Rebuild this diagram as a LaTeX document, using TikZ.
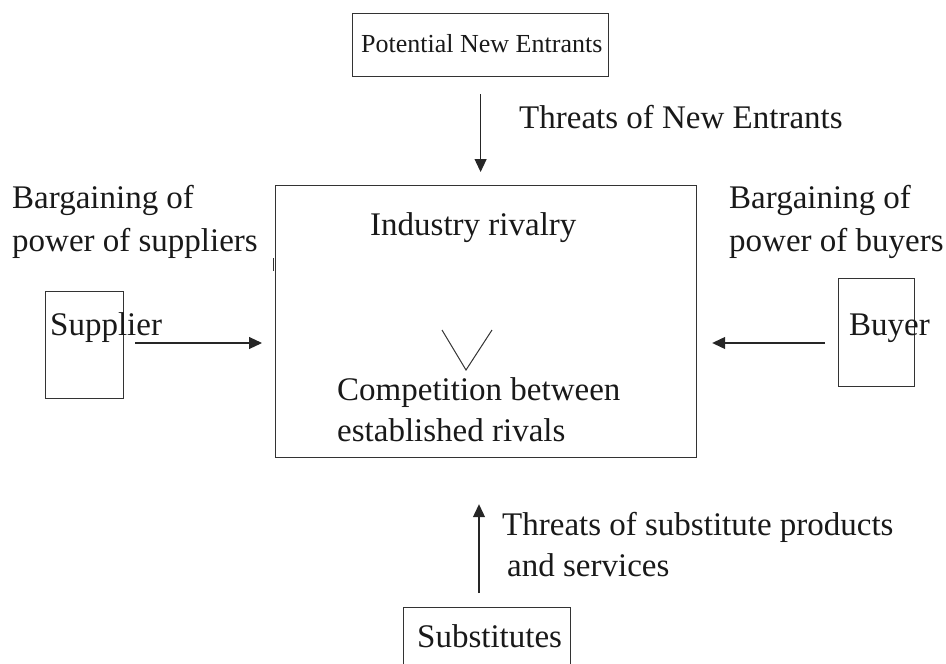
\documentclass[tikz,border=0pt]{standalone}
\usepackage{fontspec}
\setmainfont{Liberation Serif}
\usetikzlibrary{arrows.meta}
\begin{document}
\begin{tikzpicture}[x=1pt,y=-1pt,
  frame/.style={draw=black!80,line width=1.2pt,inner sep=0pt,anchor=north west},
  big/.style={inner sep=0pt,anchor=base west,font=\fontsize{33}{44}\selectfont,text=black!90},
  small/.style={inner sep=0pt,anchor=base west,font=\fontsize{26}{30}\selectfont,text=black!90},
  arr/.style={draw=black!85,line width=1.1pt,-{Triangle[length=13pt,width=12pt]}}]
\useasboundingbox (0,0) rectangle (946,664);

% boxes
\node[frame,minimum width=256pt,minimum height=63pt] (entrants) at (352,13) {};
\node[frame,minimum width=421pt,minimum height=272pt] (rivalry) at (275,185) {};
\node[frame,minimum width=78pt,minimum height=107pt] (supplier) at (45,291) {};
\node[frame,minimum width=76pt,minimum height=108pt] (buyer) at (838,278) {};
\node[frame,minimum width=167pt,minimum height=70pt] (subst) at (403,607) {};

% small mark on the left edge of the rivalry box
\draw[black!80,line width=1pt] (273.5,258) -- (273.5,271);

% texts
\node[small] (tEnt) at (361,52) {Potential New Entrants};
\node[big] (lEnt) at (519,128) {Threats of New Entrants};
\node[big] (lSup1) at (12,208) {Bargaining of};
\node[big] (lSup2) at (12,251) {power of suppliers};
\node[big] (lBuy1) at (729,208) {Bargaining of};
\node[big] (lBuy2) at (729,251) {power of buyers};
\node[big] (tInd) at (370,235) {Industry rivalry};
\node[big] (tComp1) at (337,400) {Competition between};
\node[big] (tComp2) at (337,441) {established rivals};
\node[big] (tSup) at (50,335) {Supplier};
\node[big] (tBuy) at (849,335) {Buyer};
\node[big] (lSub1) at (502,535) {Threats of substitute products};
\node[big] (lSub2) at (507,576) {and services};
\node[big] (tSub) at (417,647) {Substitutes};

% V mark inside the rivalry box
\draw[black!80,line width=1pt] (442,330) -- (466,370) -- (492,330);

% connectors
\draw[arr,shorten <=17pt,shorten >=13pt] (entrants.south) -- (entrants.south |- rivalry.north);
\coordinate (supTail) at (135,343);
\draw[arr,shorten >=13pt] (supTail) -- (supTail -| rivalry.west);
\coordinate (buyTail) at (825,343);
\draw[arr,shorten >=15pt] (buyTail) -- (buyTail -| rivalry.east);
\coordinate (subTail) at (479,593);
\draw[arr,shorten >=46pt] (subTail) -- (subTail |- rivalry.south);
\end{tikzpicture}
\end{document}
